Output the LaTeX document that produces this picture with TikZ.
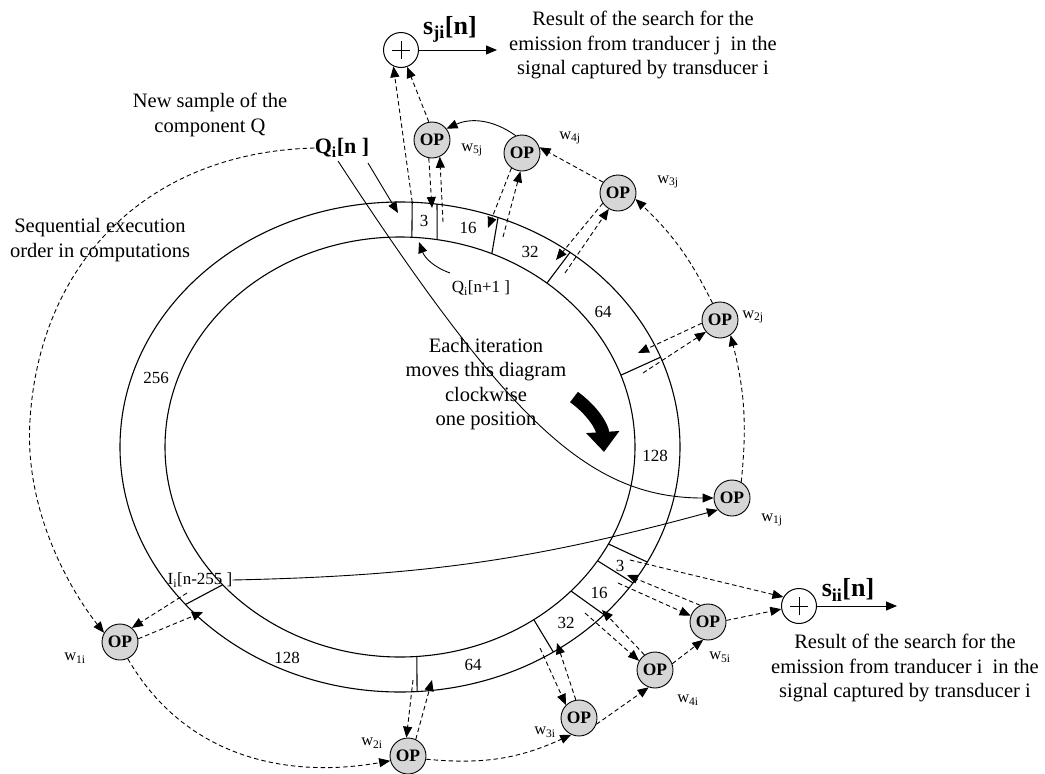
\documentclass[tikz,border=0pt]{standalone}
\usepackage{fontspec}
\setmainfont{Liberation Serif}
\usetikzlibrary{arrows.meta,calc}
\definecolor{opgray}{RGB}{214,214,214}
\newcommand\ftext{\fontsize{20.5}{24.5}\selectfont}
\newcommand\fnum{\fontsize{17}{20}\selectfont}
\newcommand\fop{\fontsize{17.5}{20}\selectfont\bfseries}
\newcommand\fwlab{\fontsize{16.5}{20}\selectfont}
\newcommand\fbig{\fontsize{26}{30}\selectfont\bfseries}
\newcommand\fqbig{\fontsize{22}{26}\selectfont\bfseries}
\begin{document}
\begin{tikzpicture}[x=1pt,y=1pt,
  op/.style={circle,draw,line width=0.9pt,fill=opgray,minimum size=36pt,inner sep=0pt,font=\fop},
  sumnode/.style={circle,draw,line width=1pt,minimum size=35pt,inner sep=0pt,
    path picture={\draw[line width=0.9pt]
      ([xshift=-9pt]path picture bounding box.center) -- ([xshift=9pt]path picture bounding box.center)
      ([yshift=-9pt]path picture bounding box.center) -- ([yshift=9pt]path picture bounding box.center);}},
  darr/.style={line width=0.9pt,dash pattern=on 4.5pt off 3pt,-{Triangle[length=11pt,width=9pt]}},
  sarr/.style={line width=0.9pt,-{Triangle[length=11pt,width=9pt]}},
  ringline/.style={line width=1.1pt},
  numlbl/.style={font=\fnum,inner sep=0pt},
  wlbl/.style={font=\fwlab,inner sep=0pt},
  txt/.style={font=\ftext,align=center,inner sep=0pt}
]
\useasboundingbox (0,0) rectangle (1045,-774);

% ring
\draw[ringline] (400,-447) ellipse [x radius=280, y radius=245];
\draw[ringline] (400,-447) ellipse [x radius=235, y radius=210];

\coordinate (dAo) at ({400+280*cos(87.5)},{-447+245*sin(87.5)});
\coordinate (dAi) at ({400+235*cos(87.1)},{-447+210*sin(87.1)});
\coordinate (dBo) at ({400+280*cos(82.4)},{-447+245*sin(82.4)});
\coordinate (dBi) at ({400+235*cos(80.9)},{-447+210*sin(80.9)});
\coordinate (dCo) at ({400+280*cos(69.5)},{-447+245*sin(69.5)});
\coordinate (dCi) at ({400+235*cos(67)},{-447+210*sin(67)});
\coordinate (dDo) at ({400+280*cos(52.6)},{-447+245*sin(52.6)});
\coordinate (dDi) at ({400+235*cos(51.3)},{-447+210*sin(51.3)});
\coordinate (dEo) at ({400+280*cos(21.5)},{-447+245*sin(21.5)});
\coordinate (dEi) at ({400+235*cos(20)},{-447+210*sin(20)});
\coordinate (dFo) at ({400+280*cos(-28)},{-447+245*sin(-28)});
\coordinate (dFi) at ({400+235*cos(-27.5)},{-447+210*sin(-27.5)});
\coordinate (dGo) at ({400+280*cos(-33.7)},{-447+245*sin(-33.7)});
\coordinate (dGi) at ({400+235*cos(-32.8)},{-447+210*sin(-32.8)});
\coordinate (dHo) at ({400+280*cos(-43.2)},{-447+245*sin(-43.2)});
\coordinate (dHi) at ({400+235*cos(-43.3)},{-447+210*sin(-43.3)});
\coordinate (dIo) at ({400+280*cos(-56.8)},{-447+245*sin(-56.8)});
\coordinate (dIi) at ({400+235*cos(-55.3)},{-447+210*sin(-55.3)});
\coordinate (dJo) at ({400+280*cos(-86.5)},{-447+245*sin(-86.5)});
\coordinate (dJi) at ({400+235*cos(-85.9)},{-447+210*sin(-85.9)});
\coordinate (dKo) at ({400+280*cos(-140)},{-447+245*sin(-140)});
\coordinate (dKi) at ({400+235*cos(-139)},{-447+210*sin(-139)});
\foreach \d in {A,B,C,D,E,F,G,H,I,J,K}{\draw[ringline] (d\d o) -- (d\d i);}

% ring numbers
\node[numlbl] (n256) at (156,-378) {256};
\node[numlbl] (n3a) at (424,-221) {3};
\node[numlbl] (n16a) at (468,-228) {16};
\node[numlbl] (n32a) at (530,-252) {32};
\node[numlbl] (n64a) at (603,-312) {64};
\node[numlbl] (n128a) at (655,-456) {128};
\node[numlbl] (n3b) at (620,-566) {3};
\node[numlbl] (n16b) at (599,-593) {16};
\node[numlbl] (n32b) at (566,-623) {32};
\node[numlbl] (n64b) at (473,-665) {64};
\node[numlbl] (n128b) at (287,-658) {128};

% OP nodes
\node[op] (op5j) at (432,-140) {OP};
\node[op] (op4j) at (522,-153) {OP};
\node[op] (op3j) at (618,-193) {OP};
\node[op] (op2j) at (720,-320) {OP};
\node[op] (op1j) at (732,-498) {OP};
\node[op] (op5i) at (708,-622) {OP};
\node[op] (op4i) at (655,-670) {OP};
\node[op] (op3i) at (579,-718) {OP};
\node[op] (op2i) at (408,-756) {OP};
\node[op] (op1i) at (120,-642) {OP};

% weight labels
\node[wlbl] (w5j) at (472,-150) {w\textsubscript{5j}};
\node[wlbl] (w4j) at (570,-138) {w\textsubscript{4j}};
\node[wlbl] (w3j) at (668,-182) {w\textsubscript{3j}};
\node[wlbl] (w2j) at (753,-317) {w\textsubscript{2j}};
\node[wlbl] (w1j) at (772,-520) {w\textsubscript{1j}};
\node[wlbl] (w5i) at (720,-657) {w\textsubscript{5i}};
\node[wlbl] (w4i) at (688,-700) {w\textsubscript{4i}};
\node[wlbl] (w3i) at (545,-732) {w\textsubscript{3i}};
\node[wlbl] (w2i) at (372,-743) {w\textsubscript{2i}};
\node[wlbl] (w1i) at (75,-658) {w\textsubscript{1i}};

% adders
\node[sumnode] (sumj) at (401,-50) {};
\node[sumnode] (sumi) at (799,-606) {};
\coordinate (sjout) at (497,-50);
\coordinate (siout) at (897,-606);
\draw[sarr] (sumj) -- (sjout);
\draw[sarr] (sumi) -- (siout);
\node[font=\fbig,inner sep=0pt] (sjilbl) at (450,-29) {s\textsubscript{ji}[n]};
\node[font=\fbig,inner sep=0pt] (siilbl) at (848,-590) {s\textsubscript{ii}[n]};

% texts
\node[txt] (resj) at (643,-45) {Result of the search for the\\emission from tranducer j~ in the\\signal captured by transducer i};
\node[txt] (resi) at (905,-668) {Result of the search for the\\emission from tranducer i~ in the\\signal captured by transducer i};
\node[txt] (newsample) at (210,-115) {New sample of the\\component Q};
\node[txt] (seq) at (100,-240) {Sequential execution\\order in computations};
\node[txt] (each) at (486,-384) {Each iteration\\moves this diagram\\clockwise\\one position};

\node[font=\fqbig,inner sep=0pt] (Qn) at (342,-148) {Q\textsubscript{i}[n ]};
\node[font=\fnum,inner sep=0pt] (Qn1) at (481,-288) {Q\textsubscript{i}[n+1 ]};
\node[font=\fnum,inner sep=0pt] (Iold) at (200,-580) {I\textsubscript{i}[n-255 ]};

% solid connectors
\coordinate (qa) at (338,-161);
\coordinate (qb) at (368,-163);
\coordinate (qin) at (398,-213);
\coordinate (q1s) at (450,-273);
\coordinate (q1t) at (419,-242);
\draw[sarr] (qa) .. controls (510,-424) and (590,-498) .. (op1j.180);
\draw[sarr] (qb) -- (qin);
\draw[sarr] (q1s) to[bend left=25] (q1t);
\draw[sarr] (Iold.east) to[bend right=7] (op1j.-140);
\draw[sarr] (op4j.110) to[bend right=30] (op5j.38);

% black rotation arrow
\coordinate (bk1) at (574,-397);
\coordinate (bk2) at (604,-452);
\draw[line width=13pt,-{Triangle[length=20pt,width=32pt]}] (bk1) to[bend left=25] (bk2);

% dashed connectors, j side
\coordinate (c3) at (432,-208);
\coordinate (c4) at (443,-222);
\coordinate (c5) at (488,-228);
\coordinate (c6) at (503,-237);
\coordinate (c7) at (556,-260);
\coordinate (c8) at (565,-273);
\coordinate (c12) at (638,-353);
\coordinate (c13) at (643,-373);
\draw[darr] (dAo) -- (sumj.-115);
\draw[darr] (op5j.100) -- (sumj.-70);
\draw[darr] (op5j.-100) -- (c3);
\draw[darr] (c4) -- (op5j.-65);
\draw[darr] (op4j.-125) -- (c5);
\draw[darr] (c6) -- (op4j.-95);
\draw[darr] (op3j.-146) -- (c7);
\draw[darr] (c8) -- (op3j.-120);
\draw[darr] (op3j.144) -- (op4j.18);
\draw[darr] (op2j.114) to[bend right=10] (op3j.-19);
\draw[darr] (op2j.190) -- (c12);
\draw[darr] (c13) -- (op2j.-140);
\draw[darr] (op1j.60) to[bend right=10] (op2j.-55);

% dashed connectors, i side
\coordinate (c15) at (630,-560);
\coordinate (c17) at (627,-575);
\coordinate (c18) at (618,-583);
\coordinate (c19) at (602,-610);
\coordinate (c20) at (585,-613);
\coordinate (c22) at (557,-643);
\coordinate (c23) at (540,-648);
\coordinate (c25) at (432,-680);
\coordinate (c26) at (413,-680);
\coordinate (c29) at (187,-593);
\coordinate (c30) at (203,-612);
\draw[darr] (c15) -- (sumi.150);
\draw[darr] (op5i.5) -- (sumi.190);
\draw[darr] (op5i.115) -- (c17);
\draw[darr] (c18) -- (op5i.160);
\draw[darr] (op4i.125) -- (c19);
\draw[darr] (c20) -- (op4i.150);
\draw[darr] (op4i.20) -- (op5i.-105);
\draw[darr] (op3i.100) -- (c22);
\draw[darr] (c23) -- (op3i.135);
\draw[darr] (op3i.-20) -- (op4i.-110);
\draw[darr] (op2i.65) -- (c25);
\draw[darr] (c26) -- (op2i.95);
\draw[darr] (op2i.-10) to[bend right=15] (op3i.-115);
\draw[darr] (op1i.-65) to[out=-60,in=190] (op2i.195);
\draw[darr] (c29) -- (op1i.50);
\draw[darr] (op1i.10) -- (c30);
\draw[darr] (Qn.west) .. controls (150,-152) and (40,-260) .. (30,-420)
   .. controls (24,-510) and (70,-590) .. (op1i.150);
\end{tikzpicture}
\end{document}
